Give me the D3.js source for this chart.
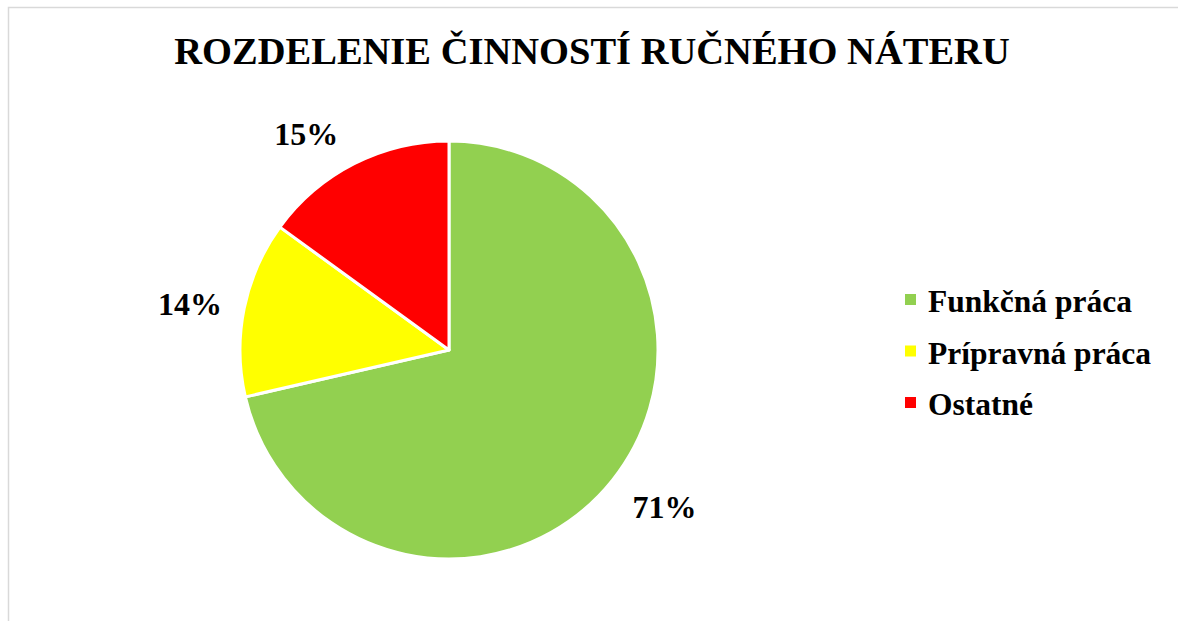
<!DOCTYPE html>
<html>

<head>
  <title>Rozdelenie činností ručného náteru</title>
  <style>
    body { margin: 0; background: #fff; }
    text { font-family: "Liberation Serif", "Times New Roman", serif; font-weight: bold; fill: #000; }
  </style>
</head>

<body>
  <svg id="svg"></svg>

  <script src="https://d3js.org/d3.v7.min.js"></script>
  <script>
    const categories = ["Funkčná práca", "Prípravná práca", "Ostatné"];
    const values = [71.4, 13.6, 15.0];
    const colors = ["#92d050", "#ffff00", "#ff0000"];
    const title = "ROZDELENIE ČINNOSTÍ RUČNÉHO NÁTERU";

    let width = 1178, height = 621;
    let cx = 449, cy = 350, radius = 209;

    let svg = d3.select("#svg")
      .attr("width", width)
      .attr("height", height);

    // chart frame (only left and top edges visible)
    svg.append("rect")
      .attr("x", 8.5).attr("y", 7.5)
      .attr("width", 1200).attr("height", 700)
      .attr("fill", "none")
      .attr("stroke", "#d9d9d9")
      .attr("stroke-width", 1.5);

    svg.append("text")
      .attr("x", 592).attr("y", 64)
      .attr("text-anchor", "middle")
      .style("font-size", "38.5px")
      .text(title);

    let color = d3.scaleOrdinal().domain(categories).range(colors);
    let data = categories.map((c, i) => ({ name: c, value: values[i] }));
    let total = d3.sum(values);

    let pie = d3.pie().value(d => d.value).sort(null);
    let arc = d3.arc().innerRadius(0).outerRadius(radius);

    let g = svg.append("g").attr("transform", `translate(${cx}, ${cy})`);

    g.selectAll("path")
      .data(pie(data))
      .join("path")
      .attr("d", arc)
      .attr("fill", d => color(d.data.name))
      .attr("stroke", "#fff")
      .attr("stroke-width", 3)
      .attr("stroke-linejoin", "round");

    // outside-end labels: anchor just outside the pie, box pushed away from it
    let anchorR = 221, halfW = 42.5, halfH = 19;
    function labelPos(d) {
      let a = (d.startAngle + d.endAngle) / 2;
      let s = Math.sin(a), c = Math.cos(a);
      let fx = Math.min(1, Math.abs(s) / 0.45);
      let fy = Math.pow(Math.min(1, Math.abs(c) / 0.6), 2);
      let x = s * anchorR + Math.sign(s) * halfW * fx;
      let y = -c * anchorR - Math.sign(c) * halfH * fy;
      return [x, y];
    }

    g.selectAll("text")
      .data(pie(data))
      .join("text")
      .attr("transform", d => `translate(${labelPos(d)})`)
      .attr("text-anchor", "middle")
      .attr("dy", "0.34em")
      .style("font-size", "32px")
      .text(d => Math.round(d.data.value / total * 100) + "%");

    // legend
    let legend = svg.append("g").attr("transform", "translate(905, 312)");
    let item = legend.selectAll("g")
      .data(categories)
      .join("g")
      .attr("transform", (d, i) => `translate(0, ${i * 51.5})`);

    item.append("rect")
      .attr("x", 0).attr("y", -18)
      .attr("width", 11).attr("height", 11)
      .attr("fill", d => color(d));

    item.append("text")
      .attr("x", 23).attr("y", 0)
      .style("font-size", "31.5px")
      .text(d => d);
  </script>
</body>

</html>
